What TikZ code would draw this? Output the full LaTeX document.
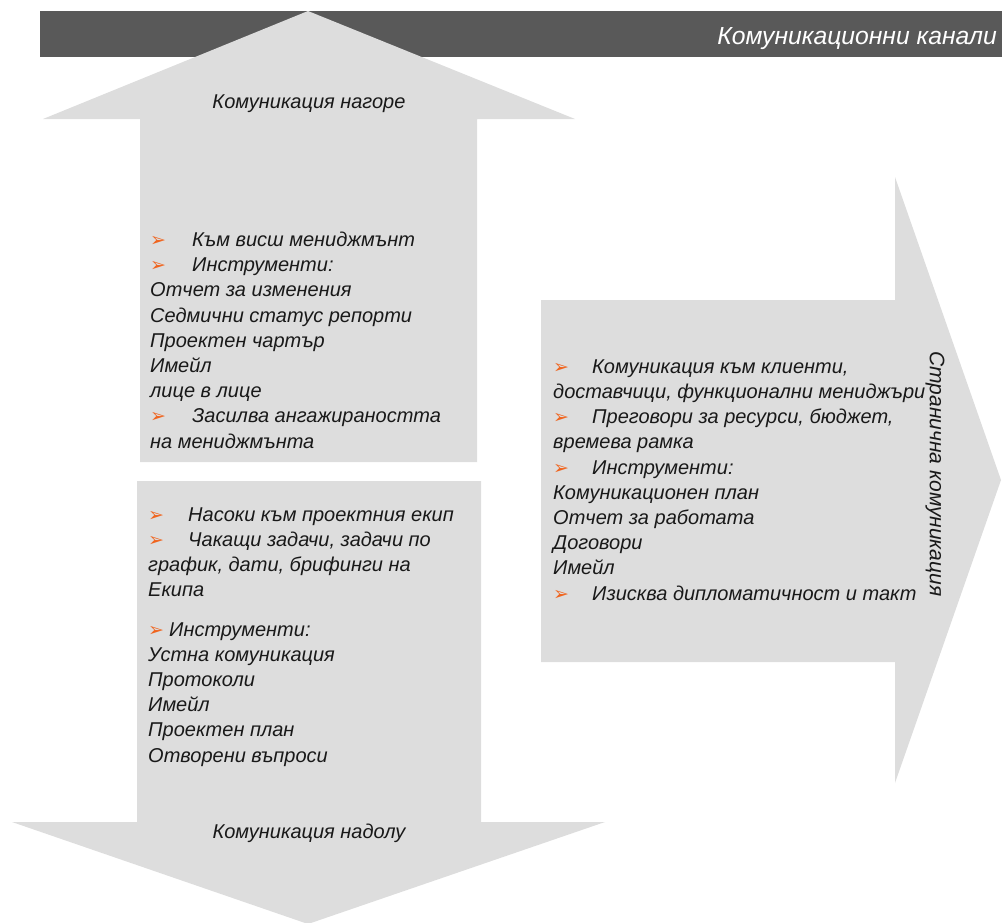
\documentclass[tikz,border=0pt]{standalone}
\usepackage{fontspec}
\setmainfont{Liberation Sans}
\newfontfamily\symfont{DejaVu Sans}
\usetikzlibrary{positioning}
\definecolor{barGray}{HTML}{595959}
\definecolor{arrowGray}{HTML}{DDDDDD}
\definecolor{bulletOrange}{HTML}{F0641E}
\newcommand{\bul}[1][42pt]{\makebox[#1][l]{\textcolor{bulletOrange}{\symfont\fontsize{19}{19}\selectfont\upshape ➢}}}
\tikzset{
  arrowshape/.style={fill=arrowGray},
  bodytext/.style={anchor=base west, align=left, inner sep=0pt, font=\fontsize{20}{25.2}\selectfont\itshape, text=black!90},
  arrowlabel/.style={anchor=base, inner sep=0pt, font=\fontsize{20}{24}\selectfont\itshape, text=black!90},
}

\begin{document}
\begin{tikzpicture}[x=1pt,y=-1pt]
\useasboundingbox (0,0) rectangle (1002,922);
% header bar
\fill[barGray] (40,11) rectangle (1002,57);
\node[anchor=base east, inner sep=0pt, text=white, font=\fontsize{24.7}{24}\selectfont\itshape] (title) at (997,44) {Комуникационни канали};
% the three arrows
\fill[arrowshape] (308,11) -- (575,119) -- (477,119) -- (477,462) -- (140,462) -- (140,119) -- (43,119) -- cycle;
\fill[arrowshape] (137,481) -- (481,481) -- (481,822) -- (605,822) -- (308,924) -- (12,822) -- (137,822) -- cycle;
\fill[arrowshape] (541,300) -- (895,300) -- (895,177) -- (1001,480) -- (895,783) -- (895,662) -- (541,662) -- cycle;
% labels
\node[arrowlabel] (uplabel) at (309,108) {Комуникация нагоре};
\node[arrowlabel] (downlabel) at (309,838) {Комуникация надолу};
\node[rotate=-90, inner sep=0pt, font=\fontsize{21}{21}\selectfont\itshape, text=black!90] (sidelabel) at (935,474) {Странична комуникация};
% text blocks (anchored at the baseline of their last line)
\node[bodytext] (upbox) at (150,448) {\bul Към висш мениджмънт\\
\bul Инструменти:\\
Отчет за изменения\\
Седмични статус репорти\\
Проектен чартър\\
Имейл\\
лице в лице\\
\bul Засилва ангажираността\\
на мениджмънта};
\node[bodytext] (downbox) at (148,762) {\bul[40pt]Насоки към проектния екип\\
\bul[40pt]Чакащи задачи, задачи по\\
график, дати, брифинги на\\
Екипа\\[14pt]
\bul[21pt]Инструменти:\\
Устна комуникация\\
Протоколи\\
Имейл\\
Проектен план\\
Отворени въпроси};
\node[bodytext] (sidebox) at (553,600) {\bul[39pt]Комуникация към клиенти,\\
доставчици, функционални мениджъри\\
\bul[39pt]Преговори за ресурси, бюджет,\\
времева рамка\\
\bul[39pt]Инструменти:\\
Комуникационен план\\
Отчет за работата\\
Договори\\
Имейл\\
\bul[39pt]Изисква дипломатичност и такт};
\end{tikzpicture}
\end{document}
